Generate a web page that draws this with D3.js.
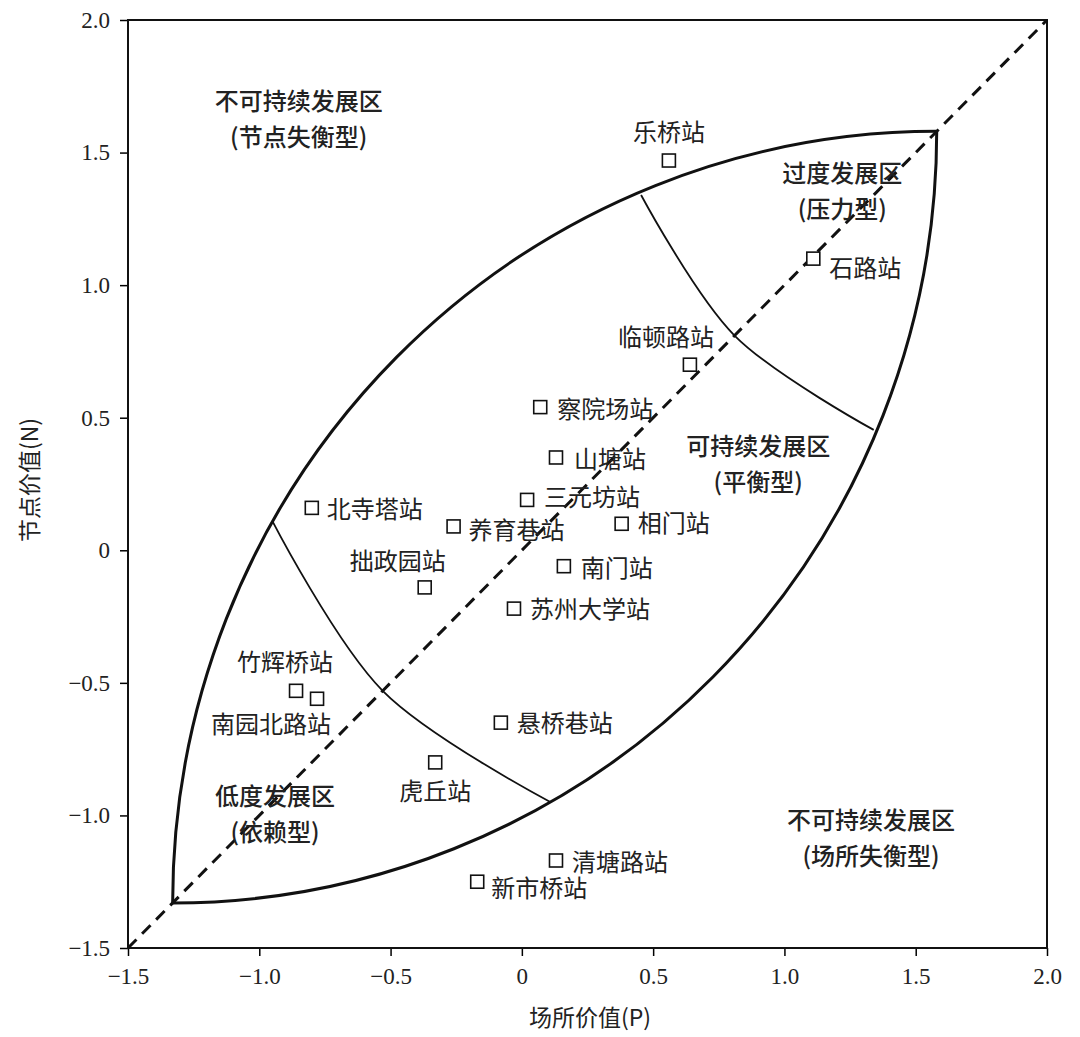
<!DOCTYPE html>
<html><head><meta charset="utf-8">
<script src="https://cdn.jsdelivr.net/npm/d3@7"></script>
<style>body{margin:0;background:#fff}svg text{font-family:"Noto Sans CJK SC","Noto Sans",sans-serif;fill:#222}</style>
</head><body>
<svg id="c" width="1080" height="1037"></svg>
<script>
var stations = ["乐桥站","石路站","临顿路站","察院场站","山塘站","三元坊站","北寺塔站","养育巷站","相门站","南门站","拙政园站","苏州大学站","竹辉桥站","南园北路站","悬桥巷站","虎丘站","清塘路站","新市桥站"];
var placeValue = [0.56,1.11,0.64,0.07,0.13,0.02,-0.80,-0.26,0.38,0.16,-0.37,-0.03,-0.86,-0.78,-0.08,-0.33,0.13,-0.17];
var nodeValue  = [1.47,1.10,0.70,0.54,0.35,0.19,0.16,0.09,0.10,-0.06,-0.14,-0.22,-0.53,-0.56,-0.65,-0.80,-1.17,-1.25];
// label anchor: [dx, dy, anchor]
var labelPlace = [[0,-28,"middle"],[16,10,"start"],[-24,-27,"middle"],[17,2,"start"],[18,2,"start"],[17,-2,"start"],[15,2,"start"],[15,4,"start"],[16,0,"start"],[17,2,"start"],[-27,-26,"middle"],[16,1,"start"],[-11,-28,"middle"],[-46,26,"middle"],[16,1,"start"],[0,29,"middle"],[16,2,"start"],[14,7,"start"]];
var lensEnds = [[-1.33,-1.33],[1.58,1.58]];
var dividerHigh = [[0.454,1.34],[0.81,0.81],[1.34,0.454]];
var dividerLow = [[-0.95,0.11],[-0.53,-0.53],[0.11,-0.95]];
var ticks = [-1.5,-1.0,-0.5,0,0.5,1.0,1.5,2.0];
var zones = [["不可持续发展区","(节点失衡型)",-0.85,1.66],["过度发展区","(压力型)",1.22,1.39],["可持续发展区","(平衡型)",0.9,0.36],["低度发展区","(依赖型)",-0.94,-0.96],["不可持续发展区","(场所失衡型)",1.33,-1.05]];

var svg = d3.select("#c");
var x = d3.scaleLinear().domain([-1.5,2]).range([128,1047]);
var y = d3.scaleLinear().domain([-1.5,2]).range([948,20]);
var fmt = function(d){ return d === 0 ? "0" : d3.format(".1f")(d).replace("-","\u2212"); };

svg.append("g").attr("transform","translate(0,948)")
  .call(d3.axisBottom(x).tickValues(ticks).tickFormat(fmt).tickSize(8))
  .call(function(g){ g.select(".domain").remove(); g.selectAll("text").attr("dy","1.1em").style("font-family","Liberation Serif").style("font-size","23px"); g.selectAll("line").attr("stroke-width",1.5); });
svg.append("g").attr("transform","translate(128,0)")
  .call(d3.axisLeft(y).tickValues(ticks).tickFormat(fmt).tickSize(8))
  .call(function(g){ g.select(".domain").remove(); g.selectAll("text").attr("dx","-0.3em").style("font-family","Liberation Serif").style("font-size","23px"); g.selectAll("line").attr("stroke-width",1.5); });
svg.append("rect").attr("x",128).attr("y",20).attr("width",919).attr("height",928).attr("fill","none").attr("stroke","#111").attr("stroke-width",2);

svg.append("text").attr("x",590).attr("y",1026).attr("text-anchor","middle").style("font-size","23px").text("场所价值(P)");
svg.append("text").attr("transform","translate(38,480) rotate(-90)").attr("text-anchor","middle").style("font-size","23px").text("节点价值(N)");

// outer lens: two circular arcs, vertical tangent at the low end, horizontal at the high end
var ax = x(lensEnds[0][0]), ay = y(lensEnds[0][1]), bx = x(lensEnds[1][0]), by = y(lensEnds[1][1]);
var rx = bx - ax, ry = ay - by;
svg.append("path").attr("d","M"+ax+","+ay+" A"+rx+","+ry+" 0 0 1 "+bx+","+by)
  .attr("fill","none").attr("stroke","#111").attr("stroke-width",3);
svg.append("path").attr("d","M"+ax+","+ay+" A"+rx+","+ry+" 0 0 0 "+bx+","+by)
  .attr("fill","none").attr("stroke","#111").attr("stroke-width",3);

var line = d3.line().x(function(d){return x(d[0]);}).y(function(d){return y(d[1]);}).curve(d3.curveCatmullRom);
[dividerHigh, dividerLow].forEach(function(p){
  svg.append("path").attr("d", line(p)).attr("fill","none").attr("stroke","#111").attr("stroke-width",1.8);
});
svg.append("line").attr("x1",x(-1.5)).attr("y1",y(-1.5)).attr("x2",x(2)).attr("y2",y(2))
  .attr("stroke","#111").attr("stroke-width",3).attr("stroke-dasharray","12,8");

zones.forEach(function(z){
  var t = svg.append("text").attr("x",x(z[2])).attr("y",y(z[3])).attr("text-anchor","middle").style("font-size","24px").style("font-weight","500");
  t.append("tspan").attr("x",x(z[2])).text(z[0]);
  t.append("tspan").attr("x",x(z[2])).attr("dy","1.5em").text(z[1]);
});

var pts = svg.append("g").selectAll("g").data(stations).join("g")
  .attr("transform",function(d,i){ return "translate("+x(placeValue[i])+","+y(nodeValue[i])+")"; });
pts.append("rect").attr("x",-6.5).attr("y",-6.5).attr("width",13).attr("height",13).attr("fill","#fff").attr("stroke","#111").attr("stroke-width",1.6);
pts.append("text").attr("x",function(d,i){return labelPlace[i][0];}).attr("y",function(d,i){return labelPlace[i][1];})
  .attr("dy","0.35em").attr("text-anchor",function(d,i){return labelPlace[i][2];}).style("font-size","24px").text(function(d){return d;});
</script>
</body></html>
